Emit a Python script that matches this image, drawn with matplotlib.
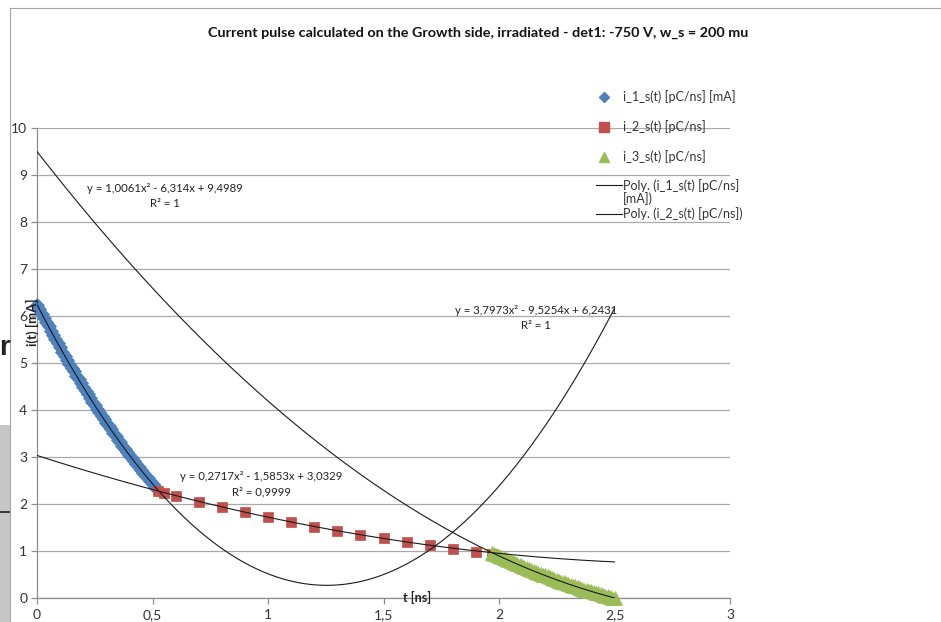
import matplotlib
matplotlib.use("Agg")
import matplotlib.pyplot as plt
import numpy as np
from matplotlib.lines import Line2D
from matplotlib.patches import Rectangle

plt.rcParams['font.family'] = ['Lato', 'DejaVu Sans']

# ---- data -----------------------------------------------------------------
title = "Current pulse calculated on the Growth side, irradiated - det1: -750 V, w_s = 200 mu"
x_label = "t [ns]"
y_label = "i(t) [mA]"

x_ticks = [0, 0.5, 1, 1.5, 2, 2.5, 3]
x_tick_labels = ["0", "0,5", "1", "1,5", "2", "2,5", "3"]
y_ticks = [0, 1, 2, 3, 4, 5, 6, 7, 8, 9, 10]
y_tick_labels = [str(v) for v in y_ticks]

series_names = ["i_1_s(t) [pC/ns] [mA]", "i_2_s(t) [pC/ns]", "i_3_s(t) [pC/ns]"]
trend_names = ["Poly. (i_1_s(t) [pC/ns]\n[mA])", "Poly. (i_2_s(t) [pC/ns])"]

# i_1_s(t): t = 0.00 ... 0.52 ns
t1 = [0.00, 0.01, 0.02, 0.03, 0.04, 0.05, 0.06, 0.07, 0.08, 0.09,
      0.10, 0.11, 0.12, 0.13, 0.14, 0.15, 0.16, 0.17, 0.18, 0.19,
      0.20, 0.21, 0.22, 0.23, 0.24, 0.25, 0.26, 0.27, 0.28, 0.29,
      0.30, 0.31, 0.32, 0.33, 0.34, 0.35, 0.36, 0.37, 0.38, 0.39,
      0.40, 0.41, 0.42, 0.43, 0.44, 0.45, 0.46, 0.47, 0.48, 0.49,
      0.50, 0.51, 0.52]
i1 = [6.24, 6.15, 6.05, 5.96, 5.87, 5.78, 5.69, 5.60, 5.51, 5.42,
      5.33, 5.24, 5.15, 5.07, 4.98, 4.90, 4.82, 4.73, 4.65, 4.57,
      4.49, 4.41, 4.33, 4.25, 4.18, 4.10, 4.02, 3.95, 3.87, 3.80,
      3.73, 3.66, 3.59, 3.51, 3.44, 3.37, 3.31, 3.24, 3.17, 3.11,
      3.04, 2.98, 2.91, 2.85, 2.79, 2.72, 2.66, 2.60, 2.55, 2.49,
      2.43, 2.37, 2.32]

# i_2_s(t)
t2 = [0.525, 0.55, 0.60, 0.70, 0.80, 0.90, 1.00, 1.10, 1.20, 1.30,
      1.40, 1.50, 1.60, 1.70, 1.80, 1.90, 1.97]
i2 = [2.27, 2.23, 2.16, 2.05, 1.93, 1.82, 1.72, 1.61, 1.52, 1.43,
      1.34, 1.27, 1.19, 1.12, 1.05, 0.98, 0.94]

# i_3_s(t): t = 1.97 ... 2.50 ns
t3 = [1.97, 1.98, 1.99, 2.00, 2.01, 2.02, 2.03, 2.04, 2.05, 2.06,
      2.07, 2.08, 2.09, 2.10, 2.11, 2.12, 2.13, 2.14, 2.15, 2.16,
      2.17, 2.18, 2.19, 2.20, 2.21, 2.22, 2.23, 2.24, 2.25, 2.26,
      2.27, 2.28, 2.29, 2.30, 2.31, 2.32, 2.33, 2.34, 2.35, 2.36,
      2.37, 2.38, 2.39, 2.40, 2.41, 2.42, 2.43, 2.44, 2.45, 2.46,
      2.47, 2.48, 2.49, 2.50]
i3 = [0.96, 0.94, 0.92, 0.90, 0.87, 0.85, 0.83, 0.81, 0.78, 0.76,
      0.74, 0.72, 0.70, 0.68, 0.66, 0.63, 0.61, 0.59, 0.57, 0.55,
      0.53, 0.52, 0.50, 0.48, 0.46, 0.44, 0.42, 0.40, 0.39, 0.37,
      0.35, 0.33, 0.32, 0.30, 0.28, 0.26, 0.25, 0.23, 0.22, 0.20,
      0.18, 0.17, 0.15, 0.14, 0.12, 0.11, 0.10, 0.08, 0.07, 0.05,
      0.04, 0.03, 0.01, 0.00]

# quadratic trendline coefficients (a, b, c) for y = a x^2 + b x + c
fit1 = [3.7973, -9.5254, 6.2431]
fit2 = [0.2717, -1.5853, 3.0329]
fit3 = [1.0061, -6.314, 9.4989]
fit_range = [0.0, 2.5]
eq1 = "y = 3,7973x² - 9,5254x + 6,2431\nR² = 1"
eq2 = "y = 0,2717x² - 1,5853x + 3,0329\nR² = 0,9999"
eq3 = "y = 1,0061x² - 6,314x + 9,4989\nR² = 1"

colors = ["#4F81BD", "#C0504D", "#9BBB59"]

# ---- figure ----------------------------------------------------------------
W, H = 941, 622
fig = plt.figure(figsize=(W / 100, H / 100), dpi=100)
fig.patch.set_facecolor("white")

def fx(px):
    return px / W

def fy(py):
    return 1 - py / H

# bits of the surrounding page showing at the left edge
fig.add_artist(Rectangle((0, 0), fx(10), fy(425), transform=fig.transFigure,
                         facecolor="#c6c6c6", edgecolor="none", zorder=0))
fig.add_artist(Line2D([0, fx(10)], [fy(512), fy(512)], transform=fig.transFigure,
                      color="#222222", lw=1.2, zorder=1))
fig.text(fx(-1), fy(355), "r", fontsize=20, fontweight="bold", color="#222222",
         ha="left", va="baseline", family=["Liberation Sans", "DejaVu Sans"])

# chart area border
fig.add_artist(Line2D([fx(10), fx(10)], [0, fy(8)], transform=fig.transFigure,
                      color="#a6a6a6", lw=0.8, zorder=1))
fig.add_artist(Line2D([fx(10), 1.0], [fy(8), fy(8)], transform=fig.transFigure,
                      color="#a6a6a6", lw=0.8, zorder=1))

ax = fig.add_axes([fx(37), fy(598), fx(730) - fx(37), fy(128) - fy(598)])
ax.set_facecolor("none")
ax.set_xlim(0, 3)
ax.set_ylim(0, 10)

for s in ["top", "right"]:
    ax.spines[s].set_visible(False)
for s in ["left", "bottom"]:
    ax.spines[s].set_color("#8c8c8c")
    ax.spines[s].set_linewidth(0.9)

ax.set_xticks(x_ticks)
ax.set_xticklabels(x_tick_labels)
ax.set_yticks(y_ticks)
ax.set_yticklabels(y_tick_labels)
ax.tick_params(axis="both", direction="out", length=4, width=0.9, color="#8c8c8c",
               labelsize=10, labelcolor="#333333")
ax.tick_params(axis="x", pad=4)
ax.tick_params(axis="y", pad=3)
ax.yaxis.grid(True, color="#a9a9a9", lw=0.9)
ax.set_axisbelow(True)

# data series (markers may spill over the axis lines)
ax.plot(t1, i1, linestyle="none", marker="D", ms=7.4, color=colors[0],
        markeredgecolor=colors[0], markeredgewidth=0.6, zorder=3, clip_on=False)
ax.plot(t2, i2, linestyle="none", marker="s", ms=7.8, color=colors[1],
        markeredgecolor=colors[1], markeredgewidth=0.5, zorder=3, clip_on=False)
ax.plot(t3, i3, linestyle="none", marker="^", ms=9.8, color=colors[2],
        markeredgecolor=colors[2], markeredgewidth=0.5, zorder=3, clip_on=False)

# polynomial trendlines
tt = np.linspace(fit_range[0], fit_range[1], 400)
for c in (fit1, fit2, fit3):
    ax.plot(tt, np.polyval(c, tt), color="#1a1a1a", lw=0.8, zorder=4)

eq_style = dict(fontsize=8.2, color="#222222", ha="center", va="center",
                linespacing=1.4, zorder=5)
ax.text(2.16, 5.96, eq1, **eq_style)
ax.text(0.97, 2.42, eq2, **eq_style)
ax.text(0.555, 8.55, eq3, **eq_style)

# axis titles sit over the axes
ax.text(1.645, 0.02, x_label, fontsize=9, fontweight="bold", ha="center",
        va="center", color="#222222", zorder=5)
ax.text(-0.018, 5.87, y_label, fontsize=9.5, fontweight="bold", ha="center",
        va="center", rotation=90, color="#222222", zorder=5)

fig.text(fx(478), fy(33), title, fontsize=10.4, fontweight="bold",
         ha="center", va="center", color="#111111")

# legend
leg_text = dict(fontsize=9, color="#333333", ha="left", va="center")
marker_styles = [("D", 5.0), ("s", 6.5), ("^", 6.5)]
rows_y = [97, 127, 157]
for (mk, ms), col, name, ry in zip(marker_styles, colors, series_names, rows_y):
    fig.add_artist(Line2D([fx(604)], [fy(ry)], transform=fig.transFigure,
                          marker=mk, ms=ms, color=col, linestyle="none"))
    fig.text(fx(623), fy(ry), name, **leg_text)
for name, ry, ly in zip(trend_names, [192, 214], [185, 214]):
    fig.add_artist(Line2D([fx(596), fx(622)], [fy(ly), fy(ly)],
                          transform=fig.transFigure, color="#1a1a1a", lw=0.8))
    fig.text(fx(623), fy(ry), name, linespacing=1.05, **leg_text)

fig.savefig("out.png", dpi=100)
